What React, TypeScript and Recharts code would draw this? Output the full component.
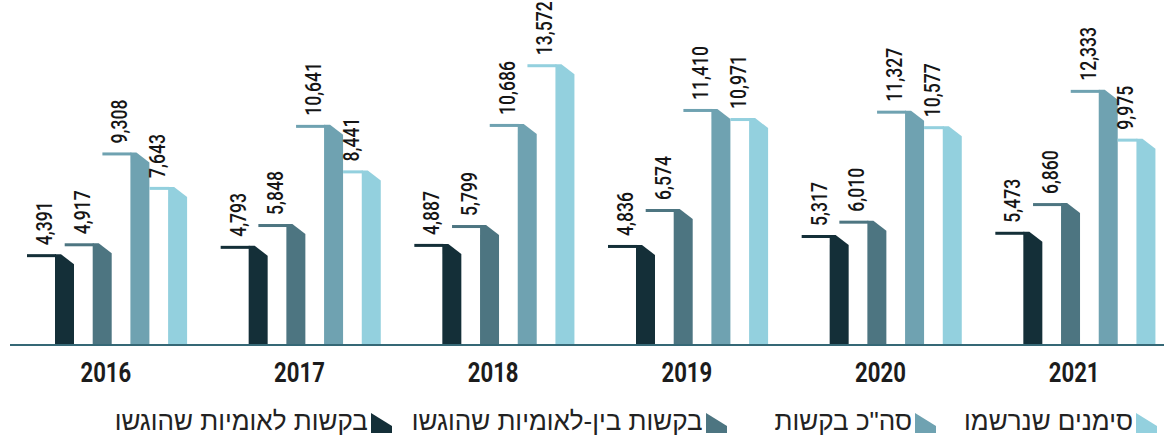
import React from 'react';
import { BarChart, Bar, XAxis, YAxis } from 'recharts';

const years = ['2016', '2017', '2018', '2019', '2020', '2021'];
const nationalFiled = [4391, 4793, 4887, 4836, 5317, 5473];
const internationalFiled = [4917, 5848, 5799, 6574, 6010, 6860];
const totalRequests = [9308, 10641, 10686, 11410, 11327, 12333];
const marksRegistered = [7643, 8441, 13572, 10971, 10577, 9975];

const seriesNames = {
  national: 'בקשות לאומיות שהוגשו',
  international: 'בקשות בין-לאומיות שהוגשו',
  total: 'סה"כ בקשות',
  registered: 'סימנים שנרשמו',
};

const COLORS = {
  national: '#142f38',
  international: '#4d7581',
  total: '#6fa2b1',
  registered: '#93d0de',
};

const data = years.map((year, i) => ({
  year,
  national: nationalFiled[i],
  international: internationalFiled[i],
  total: totalRequests[i],
  registered: marksRegistered[i],
}));

const BAR_SIZE = 19;
const BAR_GAP = 18.7;
const LINE_LEN = 28;
const LINE_THICK = 3;
const FLAT = 6;
const DROP = 10;
const NUM_FONT = "Roboto, 'Liberation Sans', sans-serif";

const fmt = (v: number) => v.toLocaleString('en-US');

const makeShape = (key: string, prevKey: string | null, color: string) => (props: any) => {
  const { x, y, width, height, payload } = props;
  const val = payload[key];
  const prevVal = prevKey ? payload[prevKey] : null;
  const lineStart = prevVal != null && prevVal > val ? x - BAR_GAP : x - LINE_LEN;
  const body = `M${x},${y + height} L${x},${y} L${x + FLAT},${y} L${x + width},${y + DROP} L${x + width},${y + height} Z`;
  const tx = x - 3;
  const ty = y - 9;
  return (
    <g>
      <rect x={lineStart} y={y} width={x - lineStart + 1} height={LINE_THICK} fill={color} />
      <path d={body} fill={color} />
      <text
        x={0}
        y={0}
        transform={`translate(${tx}, ${ty}) rotate(-90) scale(0.8, 1)`}
        textAnchor="start"
        fontFamily={NUM_FONT}
        fontWeight={500}
        fontSize={22}
        fill="#151515"
      >
        {fmt(val)}
      </text>
    </g>
  );
};

const shapes = {
  national: makeShape('national', null, COLORS.national),
  international: makeShape('international', 'national', COLORS.international),
  total: makeShape('total', 'international', COLORS.total),
  registered: makeShape('registered', 'total', COLORS.registered),
};

const YearTick = (props: any) => {
  const { x, y, payload } = props;
  return (
    <text
      x={0}
      y={0}
      transform={`translate(${x - 15}, ${y + 29}) scale(0.82, 1)`}
      textAnchor="middle"
      fontFamily={NUM_FONT}
      fontWeight="bold"
      fontSize={27}
      fill="#1c1c1c"
    >
      {payload.value}
    </text>
  );
};

const LegendIcon = ({ color }: { color: string }) => (
  <svg width={21} height={20} style={{ display: 'block' }}>
    <polygon points="0,0 21,13 21,20 0,20" fill={color} />
  </svg>
);

const legendOrder: Array<keyof typeof seriesNames> = ['registered', 'total', 'international', 'national'];
const legendSpacing = [28, 48, 20, 0];

export default function App() {
  return (
    <div style={{ position: 'absolute', left: 0, top: 0, width: 1164, height: 439, background: '#fff' }}>
      <BarChart
        width={1164}
        height={439}
        data={data}
        margin={{ top: 14, right: -22, left: 10, bottom: 54 }}
        barGap={BAR_GAP}
      >
        <YAxis hide domain={[0, 16000]} />
        <XAxis
          dataKey="year"
          height={40}
          padding={{ left: 14, right: 0 }}
          axisLine={{ stroke: '#356876', strokeWidth: 2 }}
          tickLine={false}
          tick={<YearTick />}
          interval={0}
        />
        <Bar dataKey="national" name={seriesNames.national} fill={COLORS.national} barSize={BAR_SIZE} shape={shapes.national} isAnimationActive={false} />
        <Bar dataKey="international" name={seriesNames.international} fill={COLORS.international} barSize={BAR_SIZE} shape={shapes.international} isAnimationActive={false} />
        <Bar dataKey="total" name={seriesNames.total} fill={COLORS.total} barSize={BAR_SIZE} shape={shapes.total} isAnimationActive={false} />
        <Bar dataKey="registered" name={seriesNames.registered} fill={COLORS.registered} barSize={BAR_SIZE} shape={shapes.registered} isAnimationActive={false} />
      </BarChart>
      <div
        dir="rtl"
        style={{
          position: 'absolute',
          top: 409,
          left: 0,
          width: 1164,
          boxSizing: 'border-box',
          paddingRight: 7,
          display: 'flex',
          alignItems: 'flex-end',
          fontFamily: "'Liberation Sans', Arial, sans-serif",
          fontSize: 26,
          color: '#222',
          lineHeight: '24px',
        }}
      >
        {legendOrder.map((k, i) => (
          <div key={k} style={{ display: 'flex', alignItems: 'flex-end', gap: 3, marginLeft: legendSpacing[i] }}>
            <LegendIcon color={COLORS[k]} />
            <span style={{ whiteSpace: 'nowrap' }}>{seriesNames[k]}</span>
          </div>
        ))}
      </div>
    </div>
  );
}
